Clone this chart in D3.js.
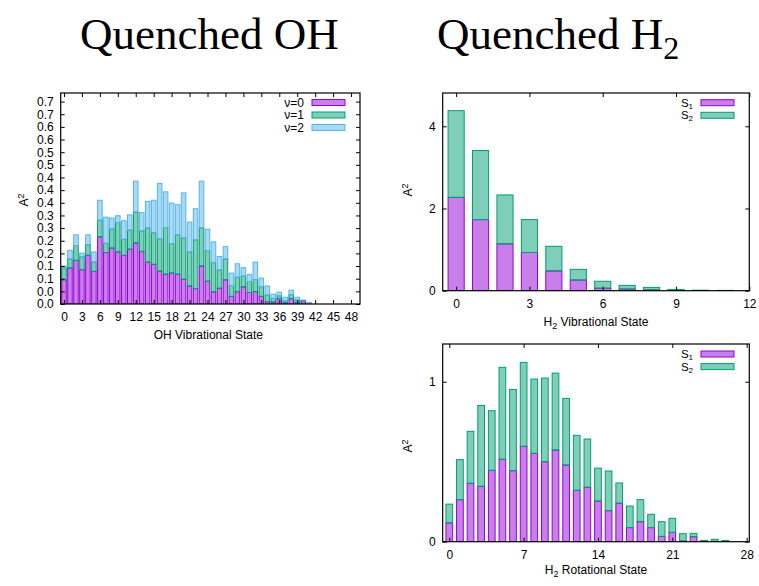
<!DOCTYPE html>
<html>
<head>
<meta charset="utf-8">
<script src="https://cdn.jsdelivr.net/npm/d3@7"></script>
<style>
  body { margin: 0; background: #fff; }
  svg text { fill: #000; }
</style>
</head>
<body>
<svg id="chart" width="759" height="586" font-family='"Liberation Sans", Arial, sans-serif'></svg>
<script>
// ---- OH: stacked populations per vibrational state ----
const ohStates = [0,1,2,3,4,5,6,7,8,9,10,11,12,13,14,15,16,17,18,19,20,
                  21,22,23,24,25,26,27,28,29,30,31,32,33,34,35,36,37,38,39,40,41];
const ohV0 = [0.086,0.128,0.155,0.122,0.173,0.116,0.239,0.183,0.199,0.185,0.173,
              0.195,0.217,0.187,0.149,0.141,0.117,0.106,0.110,0.106,0.088,0.064,
              0.055,0.135,0.081,0.043,0.056,0.086,0.027,0.044,0.061,0.041,0.044,
              0.027,0.008,0.007,0.019,0.004,0.019,0.005,0.011,0.001];
const ohV1 = [0.042,0.032,0.053,0.046,0.038,0.034,0.059,0.033,0.068,0.105,0.057,
              0.068,0.110,0.073,0.121,0.112,0.115,0.166,0.104,0.140,0.147,0.121,
              0.173,0.136,0.109,0.104,0.065,0.074,0.039,0.051,0.038,0.039,0.043,
              0.035,0.024,0.013,0.010,0.007,0.014,0.009,0.002,0.001];
const ohV2 = [0.007,0.031,0.038,0.013,0.035,0.035,0.071,0.093,0.039,0.024,0.066,
              0.054,0.110,0.065,0.095,0.116,0.197,0.127,0.145,0.107,0.160,0.106,
              0.111,0.166,0.076,0.074,0.048,0.044,0.044,0.048,0.030,0.025,0.062,
              0.030,0.032,0.015,0.013,0.013,0.016,0.010,0.001,0.003];
const ohSeriesNames = ["\u03bd=0", "\u03bd=1", "\u03bd=2"];
const ohXTicks = [0,3,6,9,12,15,18,21,24,27,30,33,36,39,42,45,48];
const ohYTicks = [0,0.045,0.09,0.135,0.18,0.225,0.27,0.315,0.36,0.405,0.45,
                  0.495,0.54,0.585,0.63,0.675,0.72];
const ohYTickLabels = ["0.0","0.0","0.1","0.1","0.2","0.2","0.3","0.3","0.4",
                       "0.4","0.4","0.5","0.5","0.6","0.6","0.7","0.7"];

// ---- H2: vibrational distribution ----
const vibStates = [0,1,2,3,4,5,6,7,8,9,10,11];
const vibS1 = [2.27,1.73,1.14,0.93,0.48,0.26,0.06,0.04,0.02,0.01,0.005,0.003];
const vibS2 = [2.11,1.68,1.19,0.80,0.60,0.26,0.17,0.09,0.06,0.02,0.008,0.005];
const vibXTicks = [0,3,6,9,12];
const vibYTicks = [0,2,4];

// ---- H2: rotational distribution ----
const rotStates = [0,1,2,3,4,5,6,7,8,9,10,11,12,13,14,15,16,17,18,19,20,
                   21,22,23,24,25,26];
const rotS1 = [0.117,0.263,0.365,0.346,0.446,0.515,0.444,0.596,0.552,0.500,
               0.573,0.479,0.321,0.340,0.254,0.194,0.240,0.088,0.125,0.088,
               0.033,0.058,0.004,0.031,0.004,0.002,0.002];
const rotS2 = [0.118,0.250,0.325,0.506,0.373,0.575,0.508,0.525,0.465,0.523,
               0.481,0.417,0.344,0.302,0.206,0.248,0.127,0.135,0.138,0.083,
               0.092,0.088,0.046,0.021,0.004,0.013,0.006];
const rotXTicks = [0,7,14,21,28];
const rotYTicks = [0,1];

const h2SeriesNames = ["S1", "S2"];

const PURPLE = "#9400d3", GREEN = "#009e73", BLUE = "#56b4e9";

const svg = d3.select("#chart");

// Text with a sub- or superscript piece: parts = [[text, "sub"|"sup"|null], ...]
function richText(sel, parts, small) {
  parts.forEach(([t, kind]) => {
    const ts = sel.append("tspan").text(t);
    if (kind === "sub") ts.attr("font-size", small).attr("baseline-shift", "-30%");
    if (kind === "sup") ts.attr("font-size", small).attr("baseline-shift", "45%");
  });
  return sel;
}

function stackedPanel(cfg) {
  const g = svg.append("g");
  const x = d3.scaleLinear().domain(cfg.xDomain).range([cfg.left, cfg.right]);
  const y = d3.scaleLinear().domain(cfg.yDomain).range([cfg.bottom, cfg.top]);

  // rows for d3.stack built from the series arrays
  const keys = cfg.series.map((s, i) => "s" + i);
  const rows = cfg.cats.map((c, j) => {
    const r = { cat: c };
    cfg.series.forEach((s, i) => { r["s" + i] = s[j]; });
    return r;
  });
  const stacked = d3.stack().keys(keys)(rows);
  const bw = x(cfg.barWidth) - x(0);

  const clip = "clip" + Math.round(cfg.left) + Math.round(cfg.top);
  svg.append("clipPath").attr("id", clip).append("rect")
    .attr("x", cfg.left).attr("y", cfg.top)
    .attr("width", cfg.right - cfg.left).attr("height", cfg.bottom - cfg.top);

  const bars = g.append("g").attr("clip-path", `url(#${clip})`);
  stacked.forEach((layer, i) => {
    bars.append("g").selectAll("rect").data(layer).join("rect")
      .attr("x", d => x(d.data.cat) - bw / 2)
      .attr("width", bw)
      .attr("y", d => y(d[1]))
      .attr("height", d => Math.max(0, y(d[0]) - y(d[1])))
      .attr("fill", cfg.colors[i]).attr("fill-opacity", 0.5)
      .attr("stroke", cfg.colors[i]).attr("stroke-width", 1);
  });

  // axes with inward ticks on all four sides
  const xb = d3.axisBottom(x).tickValues(cfg.xTicks).tickSizeInner(-4).tickSizeOuter(0)
    .tickPadding(cfg.xPad).tickFormat(d3.format("d"));
  const xt = d3.axisTop(x).tickValues(cfg.xTicks).tickSizeInner(-4).tickSizeOuter(0).tickFormat("");
  const yl = d3.axisLeft(y).tickValues(cfg.yTicks).tickSizeInner(-4).tickSizeOuter(0)
    .tickPadding(cfg.yPad).tickFormat((d, i) => cfg.yLabels ? cfg.yLabels[i] : d3.format("d")(d));
  const yr = d3.axisRight(y).tickValues(cfg.yTicks).tickSizeInner(-4).tickSizeOuter(0).tickFormat("");

  [[xb, `translate(0,${cfg.bottom})`], [xt, `translate(0,${cfg.top})`],
   [yl, `translate(${cfg.left},0)`], [yr, `translate(${cfg.right},0)`]].forEach(([ax, tr]) => {
    const a = g.append("g").attr("transform", tr).call(ax);
    a.select(".domain").remove();
    a.selectAll("line").attr("stroke", "#000").attr("stroke-width", 1);
    a.attr("font-family", null).attr("font-size", 12);
    a.selectAll("text").attr("fill", "#000");
  });

  g.append("rect").attr("x", cfg.left).attr("y", cfg.top)
    .attr("width", cfg.right - cfg.left).attr("height", cfg.bottom - cfg.top)
    .attr("fill", "none").attr("stroke", "#000").attr("stroke-width", 1.2);

  // axis titles
  richText(g.append("text").attr("x", (cfg.left + cfg.right) / 2 + cfg.xTitleDx).attr("y", cfg.xTitleY)
    .attr("text-anchor", "middle").attr("font-size", 12), cfg.xTitle, 9);
  richText(g.append("text")
    .attr("transform", `translate(${cfg.yTitleX},${cfg.yTitleY}) rotate(-90)`)
    .attr("text-anchor", "middle").attr("font-size", 12), [["A", null], ["2", "sup"]], 9);

  // legend
  cfg.legend.forEach((parts, i) => {
    const cy = cfg.legendY + i * cfg.legendStep;
    richText(g.append("text").attr("x", cfg.legendTextX).attr("y", cy + 4)
      .attr("text-anchor", "end").attr("font-size", cfg.legendFont), parts, 8);
    g.append("rect").attr("x", cfg.legendSwX).attr("y", cy - 3)
      .attr("width", 33).attr("height", 6)
      .attr("fill", cfg.colors[i]).attr("fill-opacity", 0.5)
      .attr("stroke", cfg.colors[i]).attr("stroke-width", 1);
  });
}

stackedPanel({
  left: 60.7, right: 360, top: 93, bottom: 304,
  xDomain: [-0.55, 49.5], yDomain: [0, 0.7505],
  cats: ohStates, series: [ohV0, ohV1, ohV2], colors: [PURPLE, GREEN, BLUE],
  barWidth: 0.76, xTicks: ohXTicks, yTicks: ohYTicks, yLabels: ohYTickLabels,
  xPad: 8, yPad: 7,
  xTitle: [["OH Vibrational State", null]], xTitleY: 339, xTitleDx: -2,
  yTitleX: 28, yTitleY: 200,
  legend: ohSeriesNames.map(n => [[n, null]]), legendFont: 12,
  legendY: 102.5, legendStep: 12.5, legendTextX: 304, legendSwX: 312
});

stackedPanel({
  left: 442.7, right: 749.3, top: 93, bottom: 290.7,
  xDomain: [-0.55, 12], yDomain: [0, 4.81],
  cats: vibStates, series: [vibS1, vibS2], colors: [PURPLE, GREEN],
  barWidth: 0.66, xTicks: vibXTicks, yTicks: vibYTicks, yLabels: null,
  xPad: 9, yPad: 7,
  xTitle: [["H", null], ["2", "sub"], [" Vibrational State", null]], xTitleY: 326, xTitleDx: 0,
  yTitleX: 412, yTitleY: 190,
  legend: h2SeriesNames.map(n => [[n[0], null], [n[1], "sub"]]), legendFont: 11.5,
  legendY: 102.7, legendStep: 12.6, legendTextX: 693, legendSwX: 701
});

stackedPanel({
  left: 442.7, right: 749.3, top: 344, bottom: 541.7,
  xDomain: [-0.62, 28.25], yDomain: [0, 1.236],
  cats: rotStates, series: [rotS1, rotS2], colors: [PURPLE, GREEN],
  barWidth: 0.63, xTicks: rotXTicks, yTicks: rotYTicks, yLabels: null,
  xPad: 9, yPad: 7,
  xTitle: [["H", null], ["2", "sub"], [" Rotational State", null]], xTitleY: 574, xTitleDx: 0,
  yTitleX: 412, yTitleY: 446,
  legend: h2SeriesNames.map(n => [[n[0], null], [n[1], "sub"]]), legendFont: 11.5,
  legendY: 354, legendStep: 12.6, legendTextX: 693, legendSwX: 701
});

// panel titles
const titleFont = '"Liberation Serif", "Times New Roman", serif';
svg.append("text").attr("x", 80).attr("y", 49).attr("font-size", 45)
  .attr("font-family", titleFont).text("Quenched OH");
richText(svg.append("text").attr("x", 437).attr("y", 49).attr("font-size", 45)
  .attr("font-family", titleFont), [["Quenched H", null], ["2", "sub"]], 32);
</script>
</body>
</html>
